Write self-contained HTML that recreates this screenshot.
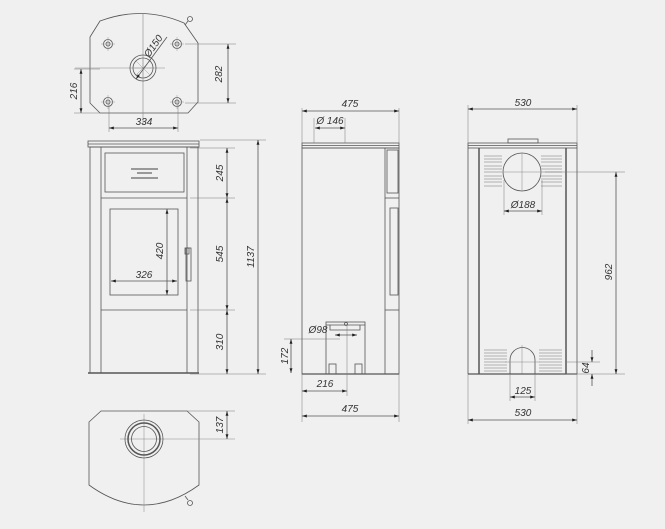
<!DOCTYPE html>
<html><head><meta charset="utf-8"><style>
html,body{margin:0;padding:0;background:#f0f0f0;}
svg{display:block}
text{font-family:"Liberation Sans",sans-serif;font-size:10px;fill:#333;font-style:italic}
</style></head><body>
<svg width="665" height="529" viewBox="0 0 665 529" xmlns="http://www.w3.org/2000/svg">
<defs>
<marker id="a" viewBox="0 0 10 10" refX="10" refY="5" markerWidth="6" markerHeight="6" orient="auto-start-reverse"><path d="M0,2 L10,5 L0,8z" fill="#222"/></marker>
</defs>
<rect width="665" height="529" fill="#f0f0f0"/>
<g fill="none" stroke="#555" stroke-width="0.8">
<!-- TOP VIEW -->
<path d="M90,37 L100,21 Q143,5 184,23 L198,43 L198,102 L188,113 L100,113 L90,103 Z"/>
<line x1="143" y1="13" x2="143" y2="125" stroke="#888" stroke-width="0.6"/>
<line x1="75" y1="68" x2="165" y2="68" stroke="#888" stroke-width="0.6"/>
<circle cx="143" cy="68" r="13"/><circle cx="143" cy="68" r="10"/>
<g stroke="#999" stroke-width="0.5"><line x1="133" y1="68" x2="153" y2="68"/><line x1="136" y1="61" x2="150" y2="75"/><line x1="150" y1="61" x2="136" y2="75"/><line x1="143" y1="58" x2="143" y2="78"/></g>
<g><circle cx="108" cy="44" r="4.5"/><circle cx="108" cy="44" r="2"/><circle cx="177" cy="44" r="4.5"/><circle cx="177" cy="44" r="2"/><circle cx="108" cy="102" r="4.5"/><circle cx="108" cy="102" r="2"/><circle cx="177" cy="102" r="4.5"/><circle cx="177" cy="102" r="2"/></g>
<g stroke="#999" stroke-width="0.5"><path d="M101,44h14M108,37v14M170,44h14M177,37v14M101,102h14M108,95v14M170,102h14M177,95v14"/></g>
<circle cx="190" cy="19" r="2.5"/><line x1="188" y1="21" x2="185" y2="25"/>
<path d="M185,44 H236 M185,103 H236 M74,69 H100 M74,113 H100 M109,104 V132 M178,104 V132" stroke="#777" stroke-width="0.5"/>
<line x1="228" y1="44" x2="228" y2="103" marker-start="url(#a)" marker-end="url(#a)"/>
<line x1="81" y1="69" x2="81" y2="113" marker-start="url(#a)" marker-end="url(#a)"/>
<line x1="109" y1="128" x2="178" y2="128" marker-start="url(#a)" marker-end="url(#a)"/>
<line x1="136" y1="79" x2="167" y2="37" marker-start="url(#a)"/>
<!-- FRONT VIEW -->
<rect x="88" y="141" width="111" height="6"/><line x1="88" y1="144" x2="199" y2="144"/>
<rect x="90" y="147" width="108" height="226"/>
<line x1="101" y1="147" x2="101" y2="373"/><line x1="187" y1="147" x2="187" y2="373"/>
<rect x="105" y="153" width="79" height="39"/>
<g stroke="#999" stroke-width="2"><line x1="131" y1="169" x2="158" y2="169"/><line x1="137" y1="173" x2="152" y2="173"/><line x1="131" y1="178" x2="158" y2="178"/></g>
<line x1="101" y1="198" x2="187" y2="198"/><line x1="101" y1="310" x2="187" y2="310"/>
<rect x="110" y="209" width="68" height="86"/>
<rect x="186" y="248" width="5" height="33"/><rect x="185" y="248" width="4" height="6"/>
<line x1="88" y1="373" x2="199" y2="373" stroke-width="1.5"/>
<path d="M190,148 H235 M190,198 H235 M190,310 H235 M190,374 H266 M200,140 H266" stroke="#777" stroke-width="0.5"/>
<line x1="227" y1="148" x2="227" y2="198" marker-start="url(#a)" marker-end="url(#a)"/>
<line x1="227" y1="198" x2="227" y2="310" marker-start="url(#a)" marker-end="url(#a)"/>
<line x1="227" y1="310" x2="227" y2="374" marker-start="url(#a)" marker-end="url(#a)"/>
<line x1="258" y1="140" x2="258" y2="374" marker-start="url(#a)" marker-end="url(#a)"/>
<line x1="167" y1="209" x2="167" y2="295" marker-start="url(#a)" marker-end="url(#a)"/>
<line x1="111" y1="281" x2="177" y2="281" marker-start="url(#a)" marker-end="url(#a)"/>
<!-- SIDE VIEW -->
<rect x="302" y="143" width="97" height="5"/><line x1="302" y1="145.5" x2="399" y2="145.5"/>
<rect x="302" y="148" width="83" height="226"/>
<path d="M385,148 H399 V374 H385"/>
<rect x="387" y="150" width="11" height="43"/>
<line x1="385" y1="198" x2="399" y2="198"/><rect x="390" y="208" width="8" height="87"/><line x1="385" y1="310" x2="399" y2="310"/>
<line x1="302" y1="374" x2="399" y2="374" stroke-width="1.2"/>
<rect x="326" y="322" width="39" height="52"/><path d="M326,325 H365 M330,325 v5 h30 v-5" />
<circle cx="346" cy="324" r="1.5"/>
<rect x="329" y="364" width="7" height="10"/><rect x="355" y="364" width="7" height="10"/>
<path d="M302,108 V143 M399,108 V143 M314,118 V143 M345,118 V143 M302,374 V422 M399,374 V422 M347,324 V396 M284,339 H340" stroke="#777" stroke-width="0.5"/>
<line x1="302" y1="111" x2="399" y2="111" marker-start="url(#a)" marker-end="url(#a)"/>
<line x1="315" y1="128" x2="345" y2="128" marker-start="url(#a)" marker-end="url(#a)"/>
<line x1="302" y1="391" x2="347" y2="391" marker-start="url(#a)" marker-end="url(#a)"/>
<line x1="302" y1="416" x2="399" y2="416" marker-start="url(#a)" marker-end="url(#a)"/>
<line x1="291" y1="339" x2="291" y2="373" marker-start="url(#a)" marker-end="url(#a)"/>
<line x1="335" y1="335" x2="357" y2="335" marker-start="url(#a)" marker-end="url(#a)"/>
<!-- BACK VIEW -->
<rect x="468" y="143" width="109" height="5"/><line x1="468" y1="145.5" x2="577" y2="145.5"/>
<rect x="508" y="139" width="30" height="4"/>
<path d="M468,148 V374 M577,148 V374"/>
<line x1="479" y1="148" x2="479" y2="374" stroke-width="1.5"/><line x1="566" y1="148" x2="566" y2="374" stroke-width="1.5"/>
<circle cx="522" cy="172" r="19"/>
<path d="M503,172 H541 M522,153 V191" stroke="#888" stroke-width="0.5"/>
<g stroke="#999" stroke-width="0.7">
<path d="M484,156h18M484,159h18M484,162h18M484,166h18M484,169h18M484,172h18M484,176h18M484,179h18M484,182h18M484,186h18"/>
<path d="M541,156h21M541,159h21M541,162h21M541,166h21M541,169h21M541,172h21M541,176h21M541,179h21M541,182h21M541,186h21"/>
<path d="M484,350h23M484,353h23M484,356h23M484,359h23M484,362h23M484,365h23M484,368h23M484,371h23"/>
<path d="M539,350h23M539,353h23M539,356h23M539,359h23M539,362h23M539,365h23M539,368h23M539,371h23"/>
</g>
<path d="M510,374 V360 A12.5,12.5 0 0 1 535,360 V374"/>
<path d="M522,345 V374 M505,362 H540" stroke="#888" stroke-width="0.5"/>
<line x1="468" y1="374" x2="577" y2="374" stroke-width="1.2"/>
<path d="M468,105 V143 M577,105 V143 M504,180 V215 M542,180 V215 M545,172 H625 M566,374 H625 M566,362 H600 M510,374 V401 M535,374 V401 M468,374 V424 M577,374 V424" stroke="#777" stroke-width="0.5"/>
<line x1="468" y1="109" x2="577" y2="109" marker-start="url(#a)" marker-end="url(#a)"/>
<line x1="504" y1="211" x2="542" y2="211" marker-start="url(#a)" marker-end="url(#a)"/>
<line x1="616" y1="172" x2="616" y2="374" marker-start="url(#a)" marker-end="url(#a)"/>
<line x1="592" y1="350" x2="592" y2="362" marker-end="url(#a)"/><line x1="592" y1="386" x2="592" y2="374" marker-end="url(#a)"/>
<line x1="510" y1="397" x2="535" y2="397" marker-start="url(#a)" marker-end="url(#a)"/>
<line x1="468" y1="420" x2="577" y2="420" marker-start="url(#a)" marker-end="url(#a)"/>
<!-- BOTTOM VIEW -->
<path d="M101,411 H187 L199,422 V485 Q144,525 89,485 V422 Z"/>
<line x1="144" y1="414" x2="144" y2="512" stroke="#888" stroke-width="0.5"/>
<line x1="120" y1="439" x2="235" y2="439" stroke="#888" stroke-width="0.5"/>
<circle cx="144" cy="439" r="19"/><circle cx="144" cy="439" r="16" stroke-width="1.5"/><circle cx="144" cy="439" r="12.5"/>
<circle cx="190" cy="503" r="2.5"/><line x1="188" y1="500" x2="185" y2="496"/>
<line x1="187" y1="411" x2="235" y2="411" stroke="#777" stroke-width="0.5"/>
<line x1="227" y1="411" x2="227" y2="439" marker-start="url(#a)" marker-end="url(#a)"/>
</g>
<g>
<text transform="translate(222,74) rotate(-90)" text-anchor="middle">282</text>
<text transform="translate(77,91) rotate(-90)" text-anchor="middle">216</text>
<text x="144" y="125" text-anchor="middle">334</text>
<text transform="translate(156,48) rotate(-55)" text-anchor="middle">Ø150</text>
<text transform="translate(223,173) rotate(-90)" text-anchor="middle">245</text>
<text transform="translate(223,254) rotate(-90)" text-anchor="middle">545</text>
<text transform="translate(223,342) rotate(-90)" text-anchor="middle">310</text>
<text transform="translate(254,257) rotate(-90)" text-anchor="middle">1137</text>
<text transform="translate(163,251) rotate(-90)" text-anchor="middle">420</text>
<text x="144" y="278" text-anchor="middle">326</text>
<text x="350" y="107" text-anchor="middle">475</text>
<text x="330" y="124" text-anchor="middle">Ø 146</text>
<text x="318" y="333" text-anchor="middle">Ø98</text>
<text transform="translate(288,356) rotate(-90)" text-anchor="middle">172</text>
<text x="325" y="387" text-anchor="middle">216</text>
<text x="350" y="412" text-anchor="middle">475</text>
<text x="523" y="106" text-anchor="middle">530</text>
<text x="523" y="208" text-anchor="middle">Ø188</text>
<text transform="translate(612,272) rotate(-90)" text-anchor="middle">962</text>
<text transform="translate(589,368) rotate(-90)" text-anchor="middle">64</text>
<text x="523" y="394" text-anchor="middle">125</text>
<text x="523" y="416" text-anchor="middle">530</text>
<text transform="translate(223,425) rotate(-90)" text-anchor="middle">137</text>
</g>
</svg>
</body></html>
